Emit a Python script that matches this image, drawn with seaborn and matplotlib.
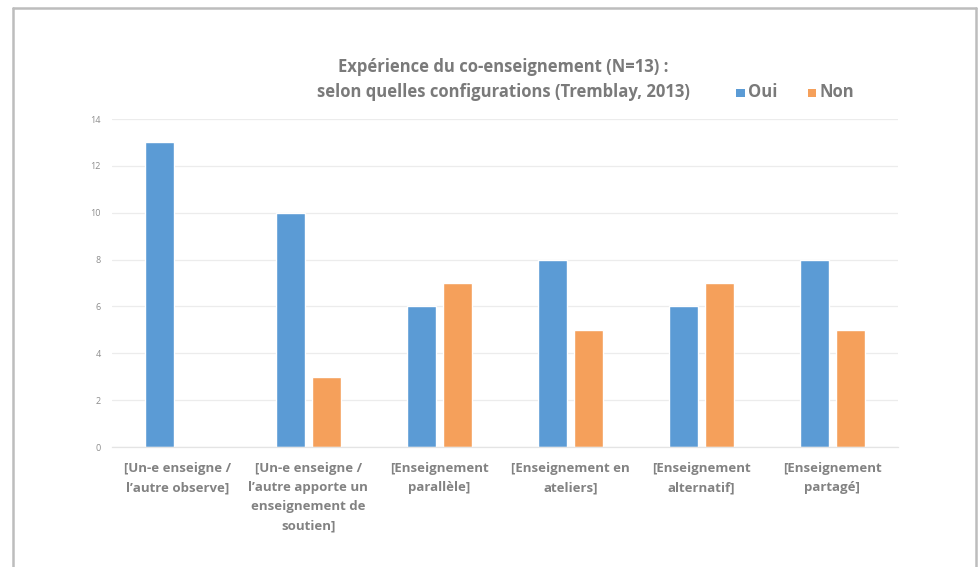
import matplotlib
matplotlib.use("Agg")
import matplotlib.pyplot as plt
from matplotlib.lines import Line2D
from matplotlib.patches import Rectangle
import seaborn as sns
import pandas as pd

categories = [
    "[Un-e enseigne /\nl’autre observe]",
    "[Un-e enseigne /\nl’autre apporte un\nenseignement de\nsoutien]",
    "[Enseignement\nparallèle]",
    "[Enseignement en\nateliers]",
    "[Enseignement\nalternatif]",
    "[Enseignement\npartagé]",
]
oui = [13, 10, 6, 8, 6, 8]
non = [0, 3, 7, 5, 7, 5]
series = ["Oui", "Non"]
colors = ["#5B9BD5", "#F5A05B"]
yticks = [0, 2, 4, 6, 8, 10, 12, 14]

df = pd.DataFrame({
    "cat": categories * 2,
    "val": oui + non,
    "serie": ["Oui"] * len(categories) + ["Non"] * len(categories),
})

sns.set_theme(style="white")
plt.rcParams["font.family"] = ["Open Sans", "DejaVu Sans"]

fig = plt.figure(figsize=(9.79, 5.67), dpi=100)
fig.patch.set_facecolor("white")
ax = fig.add_axes([0.1144, 0.2116, 0.8026, 0.5784])

sns.barplot(data=df, x="cat", y="val", hue="serie", hue_order=series,
            palette=colors, width=0.55, gap=0.2, saturation=1,
            ax=ax, legend=False, errorbar=None)

ax.set_ylim(0, 14)
ax.set_xlim(-0.5, len(categories) - 0.5)
ax.set_yticks(yticks)
ax.set_yticklabels([str(t) for t in yticks], fontsize=6.5, color="#8c8c8c")
ax.tick_params(axis="y", length=0, pad=8)
ax.tick_params(axis="x", length=0, pad=11)
ax.set_xticks(range(len(categories)))
ax.set_xticklabels(categories, fontsize=9.5, fontweight="bold", color="#828282",
                   linespacing=1.6, va="top")
ax.set_xlabel("")
ax.set_ylabel("")
ax.yaxis.grid(True, color="#ececec", linewidth=0.9)
ax.set_axisbelow(True)
for s in ["top", "right", "left"]:
    ax.spines[s].set_visible(False)
ax.spines["bottom"].set_color("#e4e4e4")
ax.spines["bottom"].set_linewidth(0.9)

fig.text(0.514, 0.860, "Expérience du co-enseignement (N=13) :\nselon quelles configurations (Tremblay, 2013)",
         ha="center", va="center", fontsize=12, fontweight="bold", color="#7a7a7a",
         linespacing=1.5)

# legend
for name, col, xs in zip(series, colors, [0.752, 0.825]):
    fig.patches.append(Rectangle((xs, 0.829), 0.0085, 0.0145, transform=fig.transFigure,
                                 facecolor=col, edgecolor="none"))
    fig.text(xs + 0.012, 0.837, name, ha="left", va="center", fontsize=12,
             fontweight="bold", color="#7a7a7a")

# outer frame
fc = "#bdbdbd"
x0, x1 = 13.5 / 979, 976.5 / 979
y0 = 1 - 7.5 / 567
fig.add_artist(Line2D([x0, x1], [y0, y0], transform=fig.transFigure, color=fc, linewidth=1.8))
fig.add_artist(Line2D([x0, x0], [0, y0], transform=fig.transFigure, color=fc, linewidth=1.8))
fig.add_artist(Line2D([x1, x1], [0, y0], transform=fig.transFigure, color=fc, linewidth=1.8))

fig.savefig("out.png", dpi=100, facecolor="white")
